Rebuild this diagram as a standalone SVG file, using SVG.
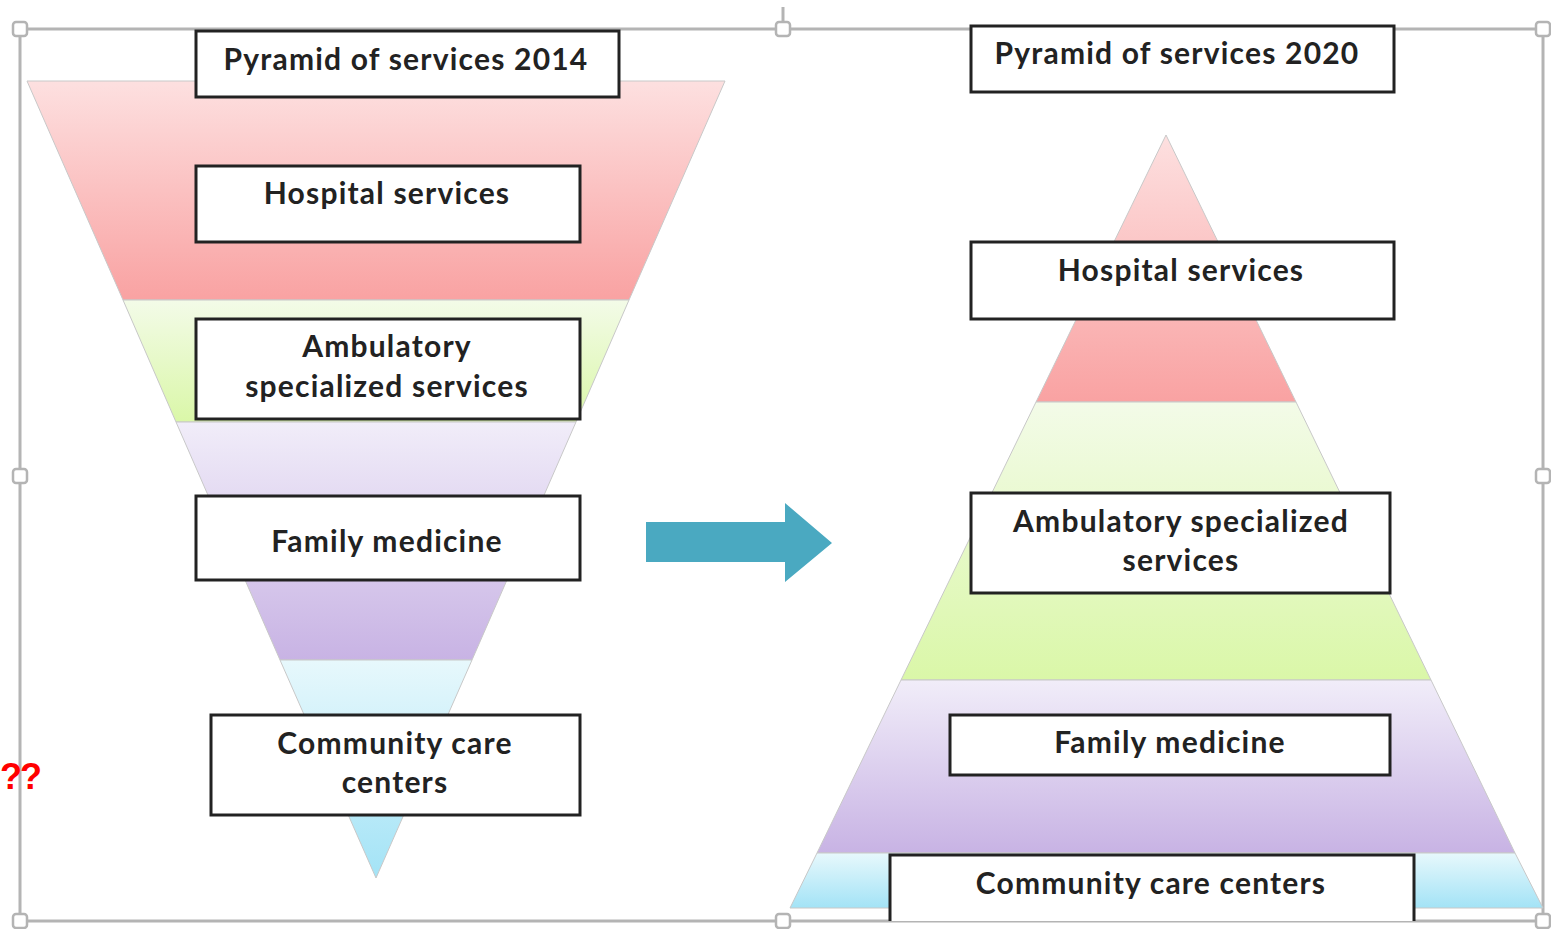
<svg xmlns="http://www.w3.org/2000/svg" width="1551" height="929" viewBox="0 0 1551 929">
<defs>
<style>
.box{fill:#fff;stroke:#222;stroke-width:3}
.t{font-family:Lato,"Open Sans","Liberation Sans",sans-serif;font-weight:bold;font-size:30px;letter-spacing:1.2px;fill:#222;text-anchor:middle}
.frame{fill:none;stroke:#b4b4b4;stroke-width:3}
.h{fill:#fff;stroke:#b4b4b4;stroke-width:2.5}
.band{stroke:#c8c8c8;stroke-width:1}
</style>
<linearGradient id="gRed" x1="0" y1="0" x2="0" y2="1"><stop offset="0" stop-color="#fde0e0"/><stop offset="1" stop-color="#f9a2a2"/></linearGradient>
<linearGradient id="gGreen" x1="0" y1="0" x2="0" y2="1"><stop offset="0" stop-color="#f3fbe8"/><stop offset="1" stop-color="#daf7a8"/></linearGradient>
<linearGradient id="gPurple" x1="0" y1="0" x2="0" y2="1"><stop offset="0" stop-color="#f1edf9"/><stop offset="1" stop-color="#c8b3e4"/></linearGradient>
<linearGradient id="gBlue" x1="0" y1="0" x2="0" y2="1"><stop offset="0" stop-color="#e7f8fc"/><stop offset="1" stop-color="#a3e3f6"/></linearGradient>
</defs>

<!-- selection frame -->
<g id="frame">
<line x1="783" y1="7" x2="783" y2="29" class="frame"/>
<rect x="20" y="29" width="1523" height="892" class="frame"/>
<rect x="13" y="22" width="14" height="14" rx="3" class="h"/>
<rect x="776" y="22" width="14" height="14" rx="3" class="h"/>
<rect x="1536" y="22" width="14" height="14" rx="3" class="h"/>
<rect x="13" y="469" width="14" height="14" rx="3" class="h"/>
<rect x="1536" y="469" width="14" height="14" rx="3" class="h"/>
<rect x="13" y="914" width="14" height="14" rx="3" class="h"/>
<rect x="776" y="914" width="14" height="14" rx="3" class="h"/>
<rect x="1536" y="914" width="14" height="14" rx="3" class="h"/>
</g>

<!-- left inverted pyramid -->
<g id="pyramid2014">
<polygon class="band" points="27,81 725,81 629,300 123,300" fill="url(#gRed)"/>
<polygon class="band" points="123,300 629,300 576,422 176,422" fill="url(#gGreen)"/>
<polygon class="band" points="176,422 576,422 472,660 280,660" fill="url(#gPurple)"/>
<polygon class="band" points="280,660 472,660 376,878" fill="url(#gBlue)"/>
</g>

<!-- right pyramid -->
<g id="pyramid2020">
<polygon class="band" points="1166,135 1296,402 1036,402" fill="url(#gRed)"/>
<polygon class="band" points="1036,402 1296,402 1431,680 901,680" fill="url(#gGreen)"/>
<polygon class="band" points="901,680 1431,680 1515,853 817,853" fill="url(#gPurple)"/>
<polygon class="band" points="817,853 1515,853 1543,908 790,908" fill="url(#gBlue)"/>
</g>

<!-- arrow -->
<g id="arrow">
<polygon points="646,522 785,522 785,503 832,543 785,582 785,562 646,562" fill="#4aa9c1"/>
</g>

<g id="n-title2014"><rect class="box" x="196" y="31" width="423" height="66"/><text class="t" x="406" y="70">Pyramid of services 2014</text></g>
<g id="n-hosp2014"><rect class="box" x="196" y="166" width="384" height="76"/><text class="t" x="387" y="204">Hospital services</text></g>
<g id="n-amb2014"><rect class="box" x="196" y="319" width="384" height="100"/><text class="t" x="387" y="357">Ambulatory</text><text class="t" x="387" y="397">specialized services</text></g>
<g id="n-fam2014"><rect class="box" x="196" y="496" width="384" height="84"/><text class="t" x="387" y="552">Family medicine</text></g>
<g id="n-comm2014"><rect class="box" x="211" y="715" width="369" height="100"/><text class="t" x="395" y="754">Community care</text><text class="t" x="395" y="793">centers</text></g>

<g id="n-title2020"><rect class="box" x="971" y="26" width="423" height="66"/><text class="t" x="1177" y="64">Pyramid of services 2020</text></g>
<g id="n-hosp2020"><rect class="box" x="971" y="242" width="423" height="77"/><text class="t" x="1181" y="281">Hospital services</text></g>
<g id="n-amb2020"><rect class="box" x="971" y="493" width="419" height="100"/><text class="t" x="1181" y="532">Ambulatory specialized</text><text class="t" x="1181" y="571">services</text></g>
<g id="n-fam2020"><rect class="box" x="950" y="715" width="440" height="60"/><text class="t" x="1170" y="753">Family medicine</text></g>
<g id="n-comm2020"><path class="box" d="M890,921 V855 H1414 V921"/><text class="t" x="1151" y="894">Community care centers</text></g>

<text x="0" y="789" font-family="'Liberation Sans',sans-serif" font-weight="bold" font-size="36" letter-spacing="-2" fill="#ff0000">??</text>
</svg>
